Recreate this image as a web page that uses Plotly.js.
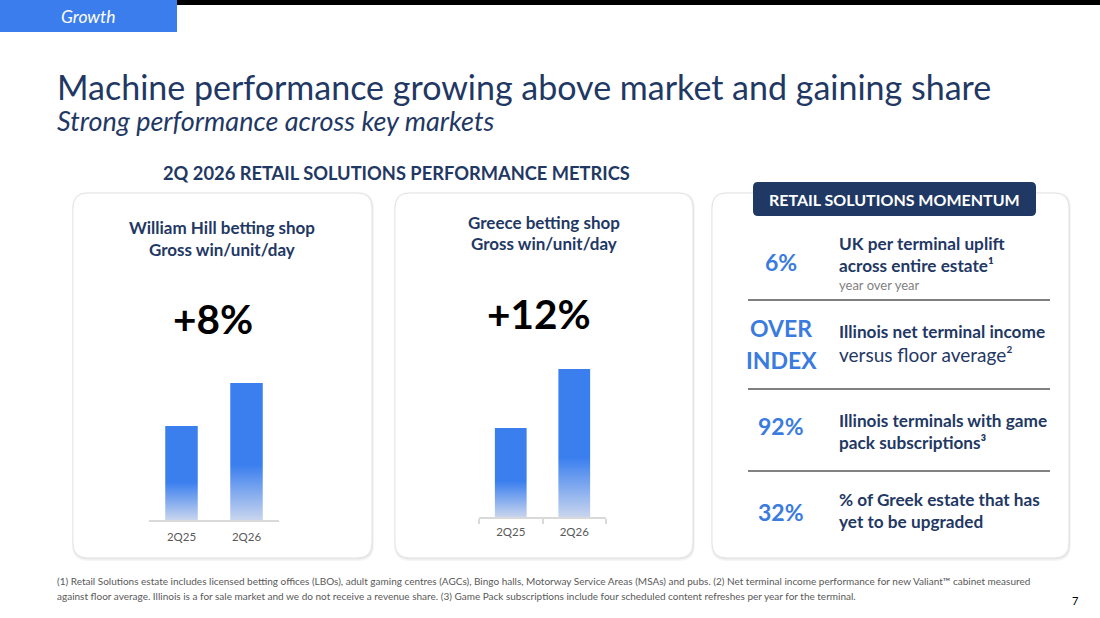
<!DOCTYPE html>
<html>
<head>
<meta charset="utf-8">
<script src="https://cdn.plot.ly/plotly-3.0.1.min.js"></script>
<style>
  html, body { margin: 0; padding: 0; background: #ffffff; }
  #chart { width: 1100px; height: 618px; }
</style>
</head>
<body>
<div id="chart"></div>
<script>
// ---- data ----
const categories = ['2Q25', '2Q26'];
const tickLabels = ['2Q25', '2Q26'];
const williamHillValues = [94, 137];
const greeceValues = [89, 148];
const williamHillChange = '+8%';
const greeceChange = '+12%';
const momentumValues = ['6%', 'OVER', 'INDEX', '92%', '32%'];

// ---- helpers ----
const W = 1100, H = 618;
const FONT = 'Lato, "Open Sans", sans-serif';
const NAVY = '#1F3864';
const BLUE = '#3B7FEF';
const px = x => x / W;
const py = y => 1 - y / H;

function T(text, x, y, size, color, extra, weight, style) {
  return Object.assign({
    text: text, x: px(x), y: py(y), xref: 'paper', yref: 'paper',
    showarrow: false, xanchor: 'center', yanchor: 'middle',
    font: { family: FONT, size: size, color: color, weight: weight || 'normal', style: style || 'normal' }
  }, extra || {});
}
const L = { xanchor: 'left' };

function rrPath(x0, y0, x1, y1, r) {
  const X = v => px(v).toFixed(5), Y = v => py(v).toFixed(5);
  return 'M' + X(x0 + r) + ',' + Y(y0) +
    ' L' + X(x1 - r) + ',' + Y(y0) +
    ' Q' + X(x1) + ',' + Y(y0) + ' ' + X(x1) + ',' + Y(y0 + r) +
    ' L' + X(x1) + ',' + Y(y1 - r) +
    ' Q' + X(x1) + ',' + Y(y1) + ' ' + X(x1 - r) + ',' + Y(y1) +
    ' L' + X(x0 + r) + ',' + Y(y1) +
    ' Q' + X(x0) + ',' + Y(y1) + ' ' + X(x0) + ',' + Y(y1 - r) +
    ' L' + X(x0) + ',' + Y(y0 + r) +
    ' Q' + X(x0) + ',' + Y(y0) + ' ' + X(x0 + r) + ',' + Y(y0) + ' Z';
}

function card(x0, y0, x1, y1) {
  return [
    { type: 'path', xref: 'paper', yref: 'paper', layer: 'below', path: rrPath(x0 - 1, y0 - 1, x1 + 2, y1 + 3, 16), fillcolor: 'rgba(0,0,0,0.04)', line: { width: 0 } },
    { type: 'path', xref: 'paper', yref: 'paper', layer: 'below', path: rrPath(x0, y0, x1 + 1, y1 + 1.5, 15), fillcolor: 'rgba(0,0,0,0.05)', line: { width: 0 } },
    { type: 'path', xref: 'paper', yref: 'paper', layer: 'below', path: rrPath(x0, y0, x1, y1, 15), fillcolor: '#ffffff', line: { color: '#E4E4E4', width: 1 } }
  ];
}

function rect(x0, y0, x1, y1, fill) {
  return { type: 'rect', xref: 'paper', yref: 'paper', layer: 'below', x0: px(x0), x1: px(x1), y0: py(y1), y1: py(y0), fillcolor: fill, line: { width: 0 } };
}
function hline(x0, x1, y, color, w) {
  return { type: 'line', xref: 'paper', yref: 'paper', x0: px(x0), x1: px(x1), y0: py(y), y1: py(y), line: { color: color, width: w } };
}

// ---- traces ----
const traces = [
  { type: 'bar', x: categories, y: williamHillValues, xaxis: 'x', yaxis: 'y', width: 0.5, marker: { color: BLUE }, hoverinfo: 'skip', showlegend: false },
  { type: 'bar', x: categories, y: greeceValues, xaxis: 'x2', yaxis: 'y2', width: 0.5, marker: { color: BLUE }, hoverinfo: 'skip', showlegend: false }
];

const axisBase = {
  type: 'category', range: [-0.5, 1.5], showline: true, linecolor: '#D9D9D9', linewidth: 2,
  showgrid: false, zeroline: false, fixedrange: true,
  tickvals: categories, ticktext: tickLabels,
  tickfont: { family: FONT, size: 11.5, color: '#595959' }
};

const shapes = []
  .concat(card(73, 193, 372, 558))
  .concat(card(395, 193, 693, 558))
  .concat(card(712, 193, 1069, 558))
  .concat([
    rect(0, 0, 177, 32, '#3B7DED'),
    rect(177, 0, 1100, 5, '#000000'),
    { type: 'path', xref: 'paper', yref: 'paper', path: rrPath(753, 182, 1036, 216, 5), fillcolor: NAVY, line: { width: 0 } },
    hline(748, 1050, 300, '#000000', 1),
    hline(748, 1050, 389, '#000000', 1),
    hline(748, 1050, 471, '#595959', 1.5)
  ]);

const GRAY = '#7F7F7F';
const VB = '#3A7BDF';
const B = 'bold';
const annotations = [
  T('Growth', 88, 16, 17.5, '#ffffff', null, 'normal', 'italic'),
  T('Machine performance growing above market and gaining share', 55, 86, 34, NAVY, L),
  T('Strong performance across key markets', 55, 120, 27, NAVY, L, 'normal', 'italic'),
  T('2Q 2026 RETAIL SOLUTIONS PERFORMANCE METRICS', 396, 173, 18.3, NAVY, null, B),

  T('William Hill betting shop', 222, 227, 17, NAVY, null, B),
  T('Gross win/unit/day', 222, 249, 17, NAVY, null, B),
  T(williamHillChange, 213, 318, 40.5, '#000000', null, B),

  T('Greece betting shop', 544, 222, 17, NAVY, null, B),
  T('Gross win/unit/day', 544, 244, 17, NAVY, null, B),
  T(greeceChange, 539, 313, 40.5, '#000000', null, B),

  T('RETAIL SOLUTIONS MOMENTUM', 894, 200, 16, '#ffffff', null, B),

  T(momentumValues[0], 781, 262, 23, VB, null, B),
  T(momentumValues[1], 781, 328, 23, VB, null, B),
  T(momentumValues[2], 781, 360, 23, VB, null, B),
  T(momentumValues[3], 781, 426, 23, VB, null, B),
  T(momentumValues[4], 781, 512, 23, VB, null, B),

  T('UK per terminal uplift', 837, 244, 17.2, NAVY, L, B),
  T('across entire estate\u00B9', 837, 265, 17.2, NAVY, L, B),
  T('year over year', 837, 285, 13, GRAY, L),
  T('Illinois net terminal income', 837, 332, 17.2, NAVY, L, B),
  T('versus floor average\u00B2', 837, 354, 19, NAVY, L),
  T('Illinois terminals with game', 837, 420, 17.2, NAVY, L, B),
  T('pack subscriptions\u00B3', 837, 442, 17.2, NAVY, L, B),
  T('% of Greek estate that has', 837, 499, 17.2, NAVY, L, B),
  T('yet to be upgraded', 837, 521, 17.2, NAVY, L, B),

  T('(1) Retail Solutions estate includes licensed betting offices (LBOs), adult gaming centres (AGCs), Bingo halls, Motorway Service Areas (MSAs) and pubs. (2) Net terminal income performance for new Valiant™ cabinet measured', 55, 581, 10, '#595959', L),
  T('against floor average. Illinois is a for sale market and we do not receive a revenue share. (3) Game Pack subscriptions include four scheduled content refreshes per year for the terminal.', 55, 596, 10, '#595959', L),
  T('7', 1075, 600, 11, '#000000')
];

const layout = {
  width: W, height: H,
  margin: { l: 0, r: 0, t: 0, b: 0 },
  paper_bgcolor: '#ffffff', plot_bgcolor: 'rgba(0,0,0,0)',
  showlegend: false, bargap: 0.5,
  xaxis: Object.assign({}, axisBase, { domain: [px(149), px(279)], anchor: 'y', ticks: '', ticklabelstandoff: 5 }),
  yaxis: { domain: [py(520), py(370)], range: [0, 150], visible: false, fixedrange: true, anchor: 'x' },
  xaxis2: Object.assign({}, axisBase, { domain: [px(479), px(606)], anchor: 'y2', ticks: 'outside', tickson: 'boundaries', ticklen: 5, tickcolor: '#D9D9D9', tickwidth: 2, ticklabelstandoff: 3 }),
  yaxis2: { domain: [py(517), py(367)], range: [0, 150], visible: false, fixedrange: true, anchor: 'x2' },
  shapes: shapes,
  annotations: annotations
};

Plotly.newPlot('chart', traces, layout, { displayModeBar: false, staticPlot: true }).then(function (gd) {
  const svg = gd.querySelector('.main-svg');
  const NS = 'http://www.w3.org/2000/svg';
  let defs = svg.querySelector('defs');
  if (!defs) { defs = document.createElementNS(NS, 'defs'); svg.insertBefore(defs, svg.firstChild); }
  const g = document.createElementNS(NS, 'linearGradient');
  g.setAttribute('id', 'barFade');
  g.setAttribute('x1', '0'); g.setAttribute('y1', '0'); g.setAttribute('x2', '0'); g.setAttribute('y2', '1');
  [[0, '#3B7FEF'], [0.6, '#3B7FEF'], [1, '#C8D5EE']].forEach(function (s) {
    const st = document.createElementNS(NS, 'stop');
    st.setAttribute('offset', s[0]); st.setAttribute('stop-color', s[1]);
    g.appendChild(st);
  });
  defs.appendChild(g);
  gd.querySelectorAll('.bars .point path').forEach(function (p) {
    p.style.fill = 'url(#barFade)';
  });
});
</script>
</body>
</html>
